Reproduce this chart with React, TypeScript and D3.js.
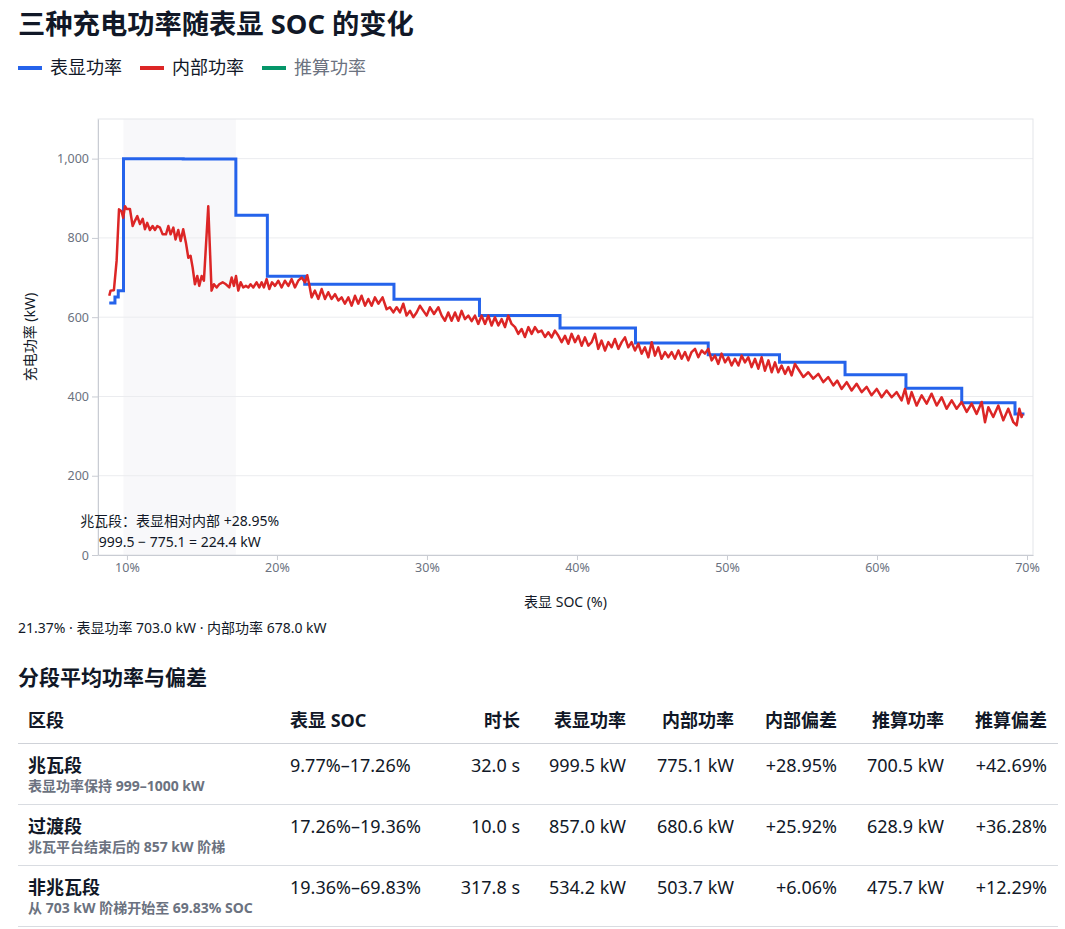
import React, { useEffect, useRef } from 'react';
import * as d3 from 'd3';

const FONT = '"Segoe UI", "Noto Sans", "Noto Sans CJK SC", sans-serif';

// 表显功率：阶梯点 [表显 SOC %, kW]
const displayedPower: [number, number][] = [
  [8.82, 636], [9.2, 651], [9.42, 667], [9.77, 1000], [13.75, 999], [17.26, 857],
  [19.36, 703], [21.85, 683], [27.8, 645], [33.5, 604], [38.87, 573], [43.9, 535],
  [48.75, 505], [53.5, 486], [57.87, 455], [61.93, 421], [65.65, 384], [69.2, 356],
  [69.83, 356],
];

// 内部功率 [表显 SOC %, kW]
const internalPower: [number, number][] = [
  [8.82, 654], [8.91, 667], [9.13, 668], [9.31, 742], [9.47, 872], [9.64, 867], [9.75, 851],
  [9.87, 880], [9.98, 873], [10.2, 873], [10.38, 830], [10.53, 843], [10.69, 855], [10.87, 835],
  [11.05, 848], [11.2, 822], [11.35, 838], [11.53, 820], [11.71, 830], [11.87, 820], [12.02, 830],
  [12.2, 826], [12.38, 809], [12.6, 809], [12.76, 830], [12.91, 809], [13.09, 826], [13.24, 796],
  [13.42, 820], [13.58, 792], [13.75, 822], [13.93, 788], [14.09, 750], [14.24, 755], [14.38, 725],
  [14.53, 683], [14.69, 704], [14.82, 679], [14.98, 704], [15.13, 692], [15.42, 880], [15.64, 667],
  [15.8, 683], [15.98, 675], [16.15, 683], [16.38, 688], [16.6, 683], [16.82, 675], [16.98, 700],
  [17.13, 679], [17.27, 704], [17.42, 667], [17.58, 688], [17.75, 675], [17.93, 679], [18.09, 675],
  [18.24, 683], [18.42, 675], [18.64, 688], [18.82, 675], [18.98, 688], [19.13, 675], [19.31, 696],
  [19.49, 671], [19.67, 688], [19.87, 679], [20.09, 692], [20.31, 675], [20.53, 692], [20.76, 679],
  [20.98, 696], [21.2, 675], [21.42, 692], [21.64, 700], [21.87, 688], [22.02, 706], [22.15, 683],
  [22.31, 650], [22.53, 667], [22.76, 646], [22.98, 671], [23.2, 646], [23.42, 663], [23.64, 646],
  [23.87, 658], [24.09, 642], [24.31, 650], [24.53, 634], [24.76, 650], [24.98, 629], [25.2, 654],
  [25.42, 634], [25.64, 654], [25.87, 629], [26.09, 646], [26.31, 629], [26.53, 650], [26.76, 634],
  [27.04, 650], [27.31, 620], [27.53, 625], [27.76, 612], [27.98, 625], [28.2, 612], [28.42, 634],
  [28.64, 604], [28.87, 616], [29.09, 600], [29.31, 612], [29.53, 629], [29.76, 616], [29.98, 604],
  [30.2, 625], [30.47, 608], [30.76, 625], [30.98, 604], [31.2, 591], [31.42, 612], [31.64, 591],
  [31.87, 612], [32.09, 591], [32.31, 616], [32.53, 595], [32.76, 604], [32.98, 590], [33.2, 604],
  [33.42, 583], [33.64, 604], [33.87, 583], [34.09, 604], [34.31, 579], [34.53, 600], [34.76, 579],
  [34.98, 595], [35.2, 575], [35.42, 604], [35.64, 583], [35.87, 575], [36.09, 558], [36.31, 570],
  [36.53, 550], [36.76, 575], [36.98, 558], [37.2, 575], [37.42, 562], [37.64, 566], [37.87, 550],
  [38.09, 562], [38.31, 549], [38.53, 566], [38.76, 553], [38.98, 537], [39.2, 553], [39.42, 533],
  [39.64, 558], [39.87, 537], [40.09, 553], [40.31, 528], [40.53, 549], [40.76, 528], [40.98, 537],
  [41.2, 558], [41.42, 520], [41.64, 541], [41.87, 516], [42.09, 537], [42.31, 524], [42.53, 545],
  [42.76, 520], [42.98, 537], [43.2, 549], [43.42, 524], [43.64, 537], [43.87, 516], [44.09, 533],
  [44.31, 508], [44.53, 524], [44.76, 499], [44.98, 537], [45.2, 503], [45.42, 524], [45.64, 495],
  [45.87, 512], [46.09, 499], [46.31, 512], [46.53, 495], [46.76, 516], [46.98, 495], [47.2, 512],
  [47.42, 491], [47.64, 512], [47.87, 520], [48.09, 499], [48.31, 516], [48.53, 508], [48.75, 520],
  [48.98, 491], [49.2, 503], [49.42, 482], [49.64, 508], [49.87, 486], [50.09, 499], [50.31, 478],
  [50.53, 495], [50.76, 478], [50.98, 503], [51.2, 486], [51.42, 499], [51.64, 474], [51.87, 495],
  [52.09, 470], [52.31, 499], [52.53, 465], [52.76, 491], [52.98, 461], [53.2, 486], [53.42, 461],
  [53.64, 478], [53.87, 457], [54.09, 474], [54.31, 453], [54.53, 482], [55.09, 449], [55.42, 461],
  [55.75, 445], [56.09, 457], [56.42, 436], [56.75, 449], [57.09, 428], [57.35, 440], [57.64, 419],
  [57.98, 436], [58.31, 415], [58.64, 432], [58.98, 411], [59.31, 424], [59.64, 403], [59.98, 419],
  [60.31, 398], [60.64, 415], [60.98, 398], [61.31, 411], [61.64, 390], [61.87, 419], [62.09, 382],
  [62.31, 411], [62.64, 377], [62.98, 403], [63.31, 382], [63.64, 407], [63.98, 377], [64.31, 398],
  [64.64, 369], [64.98, 390], [65.31, 369], [65.64, 386], [65.98, 361], [66.31, 382], [66.64, 356],
  [66.98, 386], [67.2, 335], [67.42, 373], [67.75, 348], [68.09, 377], [68.42, 340], [68.75, 369],
  [69.09, 335], [69.31, 327], [69.49, 369], [69.64, 348], [69.71, 356],
];

const megawattBand: [number, number] = [9.77, 17.26];
const yTicks = [0, 200, 400, 600, 800, 1000];
const xTicks = [10, 20, 30, 40, 50, 60, 70];

const legendLabels = ['表显功率', '内部功率', '推算功率'];
const legendColors = ['#2563eb', '#dc2626', '#059669'];
const legendHidden = [false, false, true];

const bandNote = ['兆瓦段：表显相对内部 +28.95%', '999.5 − 775.1 = 224.4 kW'];
const hoverNote = '21.37% · 表显功率 703.0 kW · 内部功率 678.0 kW';

// 分段表
const tableHeaders = ['区段', '表显 SOC', '时长', '表显功率', '内部功率', '内部偏差', '推算功率', '推算偏差'];
const segmentNames = ['兆瓦段', '过渡段', '非兆瓦段'];
const segmentNotes = ['表显功率保持 999–1000 kW', '兆瓦平台结束后的 857 kW 阶梯', '从 703 kW 阶梯开始至 69.83% SOC'];
const socRanges = ['9.77%–17.26%', '17.26%–19.36%', '19.36%–69.83%'];
const durations = ['32.0 s', '10.0 s', '317.8 s'];
const displayedAvg = ['999.5 kW', '857.0 kW', '534.2 kW'];
const internalAvg = ['775.1 kW', '680.6 kW', '503.7 kW'];
const internalDev = ['+28.95%', '+25.92%', '+6.06%'];
const estimatedAvg = ['700.5 kW', '628.9 kW', '475.7 kW'];
const estimatedDev = ['+42.69%', '+36.28%', '+12.29%'];

export default function App() {
  const svgRef = useRef<SVGSVGElement>(null);

  useEffect(() => {
    if (!svgRef.current) return;
    const svg = d3.select(svgRef.current);
    svg.selectAll('*').remove();

    const left = 98, right = 1033, top = 119, bottom = 555;
    const x = d3.scaleLinear().domain([8.07, 70.4]).range([left, right]);
    const y = d3.scaleLinear().domain([0, 1100]).range([bottom, top]);

    // Title
    svg.append('text')
      .attr('x', 18).attr('y', 34)
      .style('font-size', '27.3px').style('font-weight', 700)
      .attr('fill', '#111827')
      .text('三种充电功率随表显 SOC 的变化');

    // Legend
    legendLabels.forEach((label, i) => {
      const lx = 18 + i * 122;
      svg.append('line')
        .attr('x1', lx).attr('x2', lx + 24)
        .attr('y1', 68).attr('y2', 68)
        .attr('stroke', legendColors[i]).attr('stroke-width', 4);
      svg.append('text')
        .attr('x', lx + 32).attr('y', 74)
        .style('font-size', '18px')
        .attr('fill', legendHidden[i] ? '#6b7280' : '#111827')
        .text(label);
    });

    // Band + grid + frame
    svg.append('rect')
      .attr('x', x(megawattBand[0])).attr('y', top)
      .attr('width', x(megawattBand[1]) - x(megawattBand[0]))
      .attr('height', bottom - top)
      .attr('fill', '#f8f8fa');

    svg.append('g')
      .selectAll('line')
      .data(yTicks.filter(d => d > 0))
      .enter().append('line')
      .attr('x1', left).attr('x2', right)
      .attr('y1', d => y(d)).attr('y2', d => y(d))
      .attr('stroke', '#ebecef').attr('stroke-width', 1);

    svg.append('rect')
      .attr('x', left).attr('y', top)
      .attr('width', right - left).attr('height', bottom - top)
      .attr('fill', 'none').attr('stroke', '#e3e5e9');

    // Axes
    const yAxis = svg.append('g')
      .attr('transform', `translate(${left}, 0)`)
      .call(d3.axisLeft(y).tickValues(yTicks).tickSize(6).tickSizeOuter(0).tickFormat(d3.format(',')));
    const xAxis = svg.append('g')
      .attr('transform', `translate(0, ${bottom})`)
      .call(d3.axisBottom(x).tickValues(xTicks).tickSize(5).tickSizeOuter(0).tickFormat(d => `${d}%`));

    [yAxis, xAxis].forEach(ax => {
      ax.selectAll('.domain').attr('stroke', '#c9ccd3');
      ax.selectAll('.tick line').attr('stroke', '#c9ccd3');
      ax.selectAll('text')
        .attr('fill', '#6b7280')
        .style('font-size', '12.5px')
        .style('font-family', FONT);
    });

    svg.append('text')
      .attr('x', (left + right) / 2).attr('y', 607)
      .attr('text-anchor', 'middle')
      .style('font-size', '14px')
      .attr('fill', '#111827')
      .text('表显 SOC (%)');

    svg.append('text')
      .attr('transform', `translate(35, ${(top + bottom) / 2}) rotate(-90)`)
      .attr('text-anchor', 'middle')
      .style('font-size', '14px')
      .attr('fill', '#111827')
      .text('充电功率 (kW)');

    // Series
    const stepLine = d3.line<[number, number]>()
      .x(d => x(d[0])).y(d => y(d[1]))
      .curve(d3.curveStepAfter);
    svg.append('path')
      .datum(displayedPower)
      .attr('d', stepLine)
      .attr('fill', 'none')
      .attr('stroke', legendColors[0])
      .attr('stroke-width', 3);

    const noisyLine = d3.line<[number, number]>()
      .x(d => x(d[0])).y(d => y(d[1]));
    svg.append('path')
      .datum(internalPower)
      .attr('d', noisyLine)
      .attr('fill', 'none')
      .attr('stroke', legendColors[1])
      .attr('stroke-width', 2.5)
      .attr('stroke-linejoin', 'round');

    // Band annotation
    const bandMid = x((megawattBand[0] + megawattBand[1]) / 2);
    bandNote.forEach((line, i) => {
      svg.append('text')
        .attr('x', bandMid).attr('y', 526 + i * 21)
        .attr('text-anchor', 'middle')
        .style('font-size', '14px')
        .attr('fill', '#111827')
        .text(line);
    });

    // Hover readout
    svg.append('text')
      .attr('x', 18).attr('y', 633)
      .style('font-size', '14px')
      .attr('fill', '#111827')
      .text(hoverNote);

    // Table
    svg.append('text')
      .attr('x', 18).attr('y', 685)
      .style('font-size', '21px').style('font-weight', 700)
      .attr('fill', '#111827')
      .text('分段平均功率与偏差');

    const colX = [28, 290, 520, 626, 734, 837, 944, 1047];
    const colAnchor = ['start', 'start', 'end', 'end', 'end', 'end', 'end', 'end'];

    tableHeaders.forEach((h, i) => {
      svg.append('text')
        .attr('x', colX[i]).attr('y', 727)
        .attr('text-anchor', colAnchor[i])
        .style('font-size', '18px').style('font-weight', 700)
        .attr('fill', '#111827')
        .text(h);
    });

    const rowTop = 743.5, rowH = 61;
    svg.append('line')
      .attr('x1', 18).attr('x2', 1058)
      .attr('y1', rowTop).attr('y2', rowTop)
      .attr('stroke', '#cfd2d8');

    segmentNames.forEach((name, r) => {
      const t = rowTop + r * rowH;
      const cells = [socRanges[r], durations[r], displayedAvg[r], internalAvg[r], internalDev[r], estimatedAvg[r], estimatedDev[r]];
      svg.append('text')
        .attr('x', colX[0]).attr('y', t + 28)
        .style('font-size', '18px').style('font-weight', 700)
        .attr('fill', '#111827')
        .text(name);
      svg.append('text')
        .attr('x', colX[0]).attr('y', t + 47)
        .style('font-size', '14px').style('font-weight', 700)
        .attr('fill', '#6b7280')
        .text(segmentNotes[r]);
      cells.forEach((c, j) => {
        svg.append('text')
          .attr('x', colX[j + 1]).attr('y', t + 28)
          .attr('text-anchor', colAnchor[j + 1])
          .style('font-size', '18px')
          .attr('fill', '#111827')
          .text(c);
      });
      svg.append('line')
        .attr('x1', 18).attr('x2', 1058)
        .attr('y1', t + rowH).attr('y2', t + rowH)
        .attr('stroke', '#d9dce1');
    });
  }, []);

  return (
    <div style={{ position: 'absolute', left: 0, top: 0 }}>
      <svg
        ref={svgRef}
        width={1065}
        height={929}
        style={{ display: 'block', fontFamily: FONT }}
      />
    </div>
  );
}
